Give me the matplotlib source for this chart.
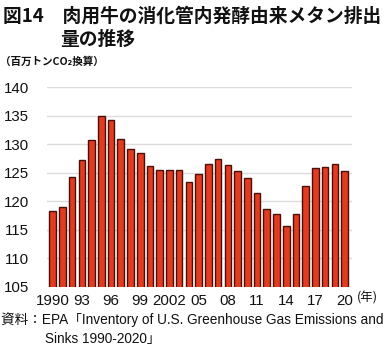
import matplotlib
matplotlib.use("Agg")
import matplotlib.pyplot as plt

years = list(range(1990, 2021))
values = [118.3, 119.0, 124.3, 127.2, 130.7, 134.9, 134.2, 130.9, 129.1, 128.4,
          126.1, 125.4, 125.4, 125.4, 123.3, 124.7, 126.5, 127.5, 126.3, 125.3,
          124.0, 121.4, 118.6, 117.7, 115.6, 117.7, 122.6, 125.8, 126.0, 126.5,
          125.3]
tick_years = list(range(1990, 2021, 3))
tick_labels = ["1990", "93", "96", "99", "2002", "05", "08", "11", "14", "17", "20"]
y_ticks = [105, 110, 115, 120, 125, 130, 135, 140]

title1 = "図14　肉用牛の消化管内発酵由来メタン排出"
title2 = "量の推移"
unit_label = "（百万トンCO₂換算）"
year_unit = "(年)"
source1 = "資料：EPA「Inventory of U.S. Greenhouse Gas Emissions and"
source2 = "Sinks 1990-2020」"

FAM = ["Liberation Sans", "Noto Sans CJK JP", "DejaVu Sans"]
plt.rcParams["font.family"] = FAM

W, H = 384, 352
fig = plt.figure(figsize=(W / 100, H / 100), dpi=100)
ax = fig.add_axes([47 / W, 1 - 286.7 / H, (352 - 47) / W, (286.7 - 87.3) / H])

ax.bar(years, values, width=0.68, color="#E23B20", edgecolor="#4a1008",
       linewidth=1.0, zorder=3)
ax.set_ylim(105, 140)
ax.set_xlim(years[0] - 0.58, years[-1] + 0.76)
ax.set_yticks(y_ticks)
ax.set_xticks(tick_years)
ax.set_xticklabels(tick_labels)
ax.yaxis.grid(True, color="#dcdcdc", linewidth=1.0, zorder=0)
ax.set_axisbelow(True)
for s in ax.spines.values():
    s.set_visible(False)
ax.tick_params(axis="both", length=0, labelsize=10.8, colors="#111111")
ax.tick_params(axis="y", pad=13)
ax.tick_params(axis="x", pad=5)

def px(x, y):
    return x / W, 1 - y / H

fig.text(*px(3, 16), title1, fontsize=13.5, fontweight="bold",
         family=["Noto Sans CJK JP", "DejaVu Sans"], va="center", ha="left", color="#111111")
fig.text(*px(60, 39), title2, fontsize=13.5, fontweight="bold",
         family=["Noto Sans CJK JP", "DejaVu Sans"], va="center", ha="left", color="#111111")
fig.text(*px(0, 62), unit_label, fontsize=7.6, fontweight="bold",
         family=["Noto Sans CJK JP", "DejaVu Sans"], va="center", ha="left", color="#111111")
fig.text(*px(357, 298), year_unit, fontsize=9, family=["Noto Sans CJK JP"],
         va="center", ha="left", color="#111111")
fig.text(*px(1, 320), source1, fontsize=9.8, va="center", ha="left", color="#111111")
fig.text(*px(45, 339), source2, fontsize=9.8, va="center", ha="left", color="#111111")

fig.savefig("out.png", dpi=100)
